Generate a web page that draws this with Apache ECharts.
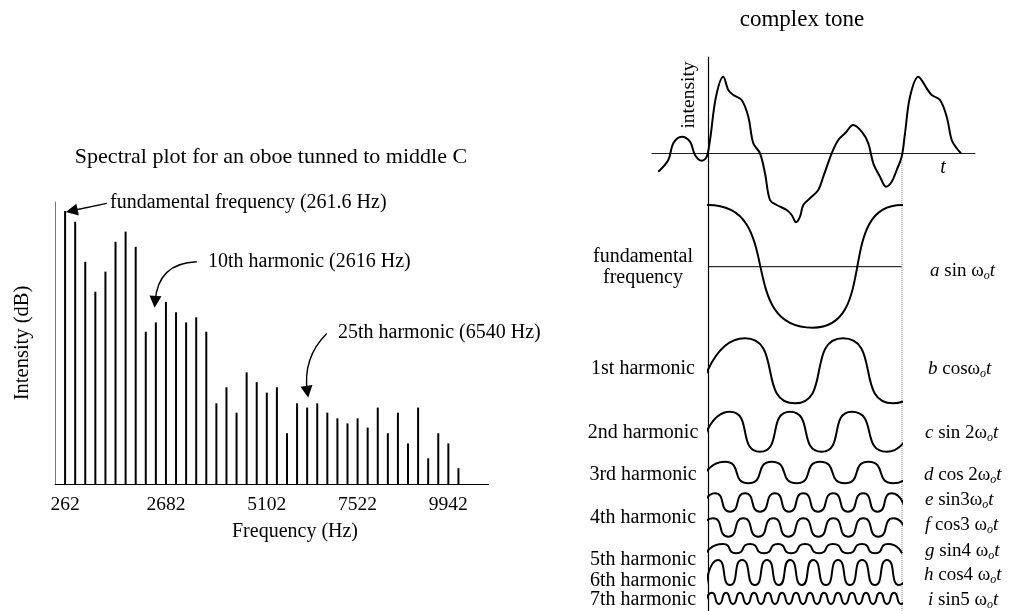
<!DOCTYPE html>
<html><head><meta charset="utf-8">
<script src="https://cdn.jsdelivr.net/npm/echarts@6/dist/echarts.min.js"></script>
<style>html,body{margin:0;padding:0;background:#fff}#c{width:1011px;height:611px}</style>
</head><body><div id="c"></div>
<script>
// ---------- Spectral plot data ----------
const harmonics = [1,2,3,4,5,6,7,8,9,10,11,12,13,14,15,16,17,18,19,20,21,22,23,24,25,26,27,28,29,30,31,32,33,34,35,36,37,38,39,40];
const intensityDb = [96.8,93.0,78.8,68.2,75.3,85.9,89.5,84.1,54.0,57.3,64.6,60.9,57.3,59.1,54.0,28.6,34.3,25.3,39.6,36.1,32.4,34.3,18.0,28.6,27.1,28.6,25.3,23.3,21.5,23.3,20.0,27.1,18.0,25.3,14.4,27.1,9.1,18.0,14.4,5.6];
const tickLabels = ['262','2682','5102','7522','9942'];
const tickPositions = [1,11,21,30,39];

// ---------- Complex tone & components (time units, amplitude units) ----------
const complexTone = [[-49.7,-18.7],[-39.7,-7],[-34.7,9.7],[-26.3,16.3],[-18,11.3],[-13,-2],[-6.3,-7.7],[-1.3,-3.7],[2,13],[8,56.3],[15.3,76.3],[20.3,63],[25.3,58],[33.7,53],[40.3,36.3],[45.3,9.7],[52,-0.3],[57,-20.3],[62,-47],[68.7,-52],[78.7,-57],[83.7,-62],[88,-69.3],[92,-63.7],[95.3,-52],[102,-45.3],[110.3,-37],[115.3,-23.7],[123.7,-0.3],[130.3,13],[137,19.7],[145.3,28],[153.7,21.3],[160.3,9.7],[165.3,-10.3],[172,-23.7],[178,-33.7],[183.7,-28.7],[188.7,-17],[193.7,-3.7],[197,19.7],[202,56.3],[210.3,76.3],[218.7,64.7],[223.7,58],[232,53],[238.7,36.3],[243.7,13],[248.7,4.7],[253,-0.3]];
const fundamental = [[-89.3,-174.7],[0,-52],[104.7,-174.7],[194,-52],[298.7,-174.7]];
const fundamentalAxis = [[0,-113.7],[194,-113.7]];
const harm1 = [[-11,-250.3],[37,-185.3],[87,-250.3],[135,-185.3],[185,-250.3],[233,-185.3]];
const harm2 = [[-8,-298.7],[22,-258.7],[52,-298.7],[82,-258.7],[113.7,-298.7],[143.7,-258.7],[178.7,-298.7],[209,-258.7]];
const harm3 = [[-8,-330.3],[17,-308.7],[40.3,-330.3],[63.7,-308.7],[88.7,-330.3],[112,-308.7],[137,-330.3],[160.3,-308.7],[185.3,-330.3],[209,-308.7]];
const harm4a = [[-7,-358.7],[7,-340.3],[22,-358.7],[37,-340.3],[52,-358.7],[67,-340.3],[81,-358.7],[95.3,-340.3],[110,-358.7],[125.3,-340.3],[140,-358.7],[155.3,-340.3],[169.5,-358.7],[183.7,-340.3],[198,-358.7]];
const harm4b = [[-10,-383.7],[5,-365.3],[20.3,-383.7],[35.3,-365.3],[50.3,-383.7],[65.3,-365.3],[80.3,-383.7],[95.3,-365.3],[110.3,-383.7],[125.3,-365.3],[140.3,-383.7],[155.3,-365.3],[170.3,-383.7],[185.3,-365.3],[200,-383.7]];
const harm5 = [[-2,-400.3],[15,-391],[28,-400.3],[42,-391],[56,-400.3],[70,-391],[83,-400.3],[97,-391],[111,-400.3],[125,-391],[140,-400.3],[154,-391],[167,-400.3],[180,-391],[194,-400.3]];
const harm6 = [[-2,-432],[10,-407],[22,-432],[34,-407],[47,-432],[59,-407],[71,-432],[82,-407],[94,-432],[105,-407],[118,-432],[130,-407],[142,-432],[154,-407],[167,-432],[179,-407],[191,-432],[203,-407]];
const harm7 = [[-3,-451],[4,-439.7],[11,-451],[18,-439.7],[25,-451],[32,-439.7],[39,-451],[46,-439.7],[53,-451],[60,-439.7],[67,-451],[74,-439.7],[81,-451],[88,-439.7],[95,-451],[102,-439.7],[109,-451],[116,-439.7],[123,-451],[130,-439.7],[137,-451],[144,-439.7],[151,-451],[158,-439.7],[165,-451],[172,-439.7],[179,-451],[186,-439.7],[193,-451],[200,-439.7]];

const rowLabels = ['fundamental\nfrequency','1st harmonic','2nd harmonic','3rd harmonic','4th harmonic','5th harmonic','6th harmonic','7th harmonic'];
const formulaLabels = ['{i|a} sin ω{s|o}{i|t}','{i|b} cosω{s|o}{i|t}','{i|c} sin 2ω{s|o}{i|t}','{i|d} cos 2ω{s|o}{i|t}','{i|e} sin3ω{s|o}{i|t}','{i|f} cos3 ω{s|o}{i|t}','{i|g} sin4 ω{s|o}{i|t}','{i|h} cos4 ω{s|o}{i|t}','{i|i} sin5 ω{s|o}{i|t}'];

const FONT = '"Liberation Serif", "Times New Roman", serif';
const chart = echarts.init(document.getElementById('c'), null, {renderer:'canvas'});

function txt(text, x, y, opts) {
  return Object.assign({type:'text', x:x, y:y, silent:true,
    style: Object.assign({text:text, fill:'#000', fontSize:20, fontFamily:FONT, align:'left', verticalAlign:'middle'}, (opts||{}).style||{})},
    (opts||{}).el||{});
}
const rowLabelY = [267,369,433,475,518,560,581,600];
const formulaY = [271,369,433,475,500,525,551,575,600];
const formulaX = [930,928,925,924,925,925,925,924,928];
const graphics = [
  txt('Spectral plot for an oboe tunned to middle C', 271, 157, {style:{fontSize:22, align:'center'}}),
  txt('fundamental frequency (261.6 Hz)', 110, 203),
  txt('10th harmonic (2616 Hz)', 208, 262),
  txt('25th harmonic (6540 Hz)', 338, 333),
  txt('Frequency (Hz)', 295, 532, {style:{align:'center'}}),
  txt('complex tone', 802, 20, {style:{align:'center', fontSize:23}}),
  txt('intensity', 689, 95, {style:{align:'center', fontSize:19.5}, el:{rotation:Math.PI/2}}),
  txt('t', 943, 168, {style:{fontStyle:'italic', align:'center'}})
];
rowLabels.forEach((t,i)=>graphics.push(txt(t, 643, rowLabelY[i], {style:{align:'center', lineHeight:21.5}})));
formulaLabels.forEach((t,i)=>graphics.push(txt(t, formulaX[i], formulaY[i], {style:{fontSize:19, rich:{
  i:{fontStyle:'italic', fontSize:19, fontFamily:FONT, lineHeight:22},
  s:{fontStyle:'italic', fontSize:12, fontFamily:FONT, lineHeight:22, verticalAlign:'bottom'}
}}})));

function wave(data, idx, opts) {
  return Object.assign({type:'line', xAxisIndex:idx, yAxisIndex:idx, data:data, showSymbol:false, symbol:'none',
    smooth:0.75, smoothMonotone:'x', lineStyle:{color:'#000', width:2}, silent:true, animation:false}, opts||{});
}

const option = {
  animation:false,
  backgroundColor:'#fff',
  grid:[
    {left:55, top:202, width:433.7, height:282},
    {left:652, right:36, top:57, bottom:0},
    {left:708, right:109, top:190, bottom:0}
  ],
  xAxis:[
    {gridIndex:0, type:'value', min:0, max:43, interval:1,
     axisLine:{show:true, lineStyle:{color:'#000', width:1}}, axisTick:{show:false}, splitLine:{show:false},
     axisLabel:{show:true, margin:11, color:'#000', fontSize:19.5, fontFamily:FONT,
       formatter:(v)=>{const k=tickPositions.indexOf(Math.round(v)); return k>=0?tickLabels[k]:'';}}},
    {gridIndex:1, type:'value', min:-56, max:267, axisLine:{show:true, onZero:true, lineStyle:{color:'#222', width:1}},
     axisTick:{show:false}, axisLabel:{show:false}, splitLine:{show:false}},
    {gridIndex:2, type:'value', min:0, max:194, show:false}
  ],
  yAxis:[
    {gridIndex:0, type:'value', min:0, max:100, axisLine:{show:true, lineStyle:{color:'#777', width:1}},
     axisTick:{show:false}, axisLabel:{show:false}, splitLine:{show:false},
     name:'Intensity (dB)', nameLocation:'middle', nameGap:22, nameRotate:90,
     nameTextStyle:{color:'#000', fontSize:20.5, fontFamily:FONT}},
    {gridIndex:1, type:'value', min:-458, max:96, axisLine:{show:true, onZero:true, lineStyle:{color:'#000', width:1.2}},
     axisTick:{show:false}, axisLabel:{show:false}, splitLine:{show:false}},
    {gridIndex:2, type:'value', min:-458, max:-37, show:false}
  ],
  series:[
    {type:'bar', xAxisIndex:0, yAxisIndex:0, barWidth:2, itemStyle:{color:'#000'},
     data: harmonics.map((h,i)=>[h, intensityDb[i]]), silent:true},
    {type:'lines', coordinateSystem:'cartesian2d', xAxisIndex:0, yAxisIndex:0, clip:false, silent:true,
     symbol:['none','triangle'], symbolSize:[11,12],
     lineStyle:{color:'#000', width:1.4, opacity:1},
     data:[
       {coords:[[5.13,99.5],[1.66,96.9]], lineStyle:{curveness:0}},
       {coords:[[14.05,78.8],[9.92,64.6]], lineStyle:{curveness:-0.45}},
       {coords:[[26.94,53.4],[25.02,32.7]], lineStyle:{curveness:-0.25}}
     ]},
    wave(complexTone, 1, {smooth:0.35, smoothMonotone:null}),
    {type:'line', xAxisIndex:1, yAxisIndex:1, data:fundamentalAxis, symbol:'none', lineStyle:{color:'#000', width:1}, silent:true},
    {type:'line', xAxisIndex:1, yAxisIndex:1, data:[[194,-7],[194,-458]], symbol:'none', lineStyle:{color:'#888', width:1, type:'dotted'}, silent:true},
    wave(fundamental, 2),
    wave(harm1, 2),
    wave(harm2, 2),
    wave(harm3, 2),
    wave(harm4a, 2),
    wave(harm4b, 2),
    wave(harm5, 2),
    wave(harm6, 2),
    wave(harm7, 2)
  ],
  graphic: graphics
};
chart.setOption(option);
</script></body></html>
